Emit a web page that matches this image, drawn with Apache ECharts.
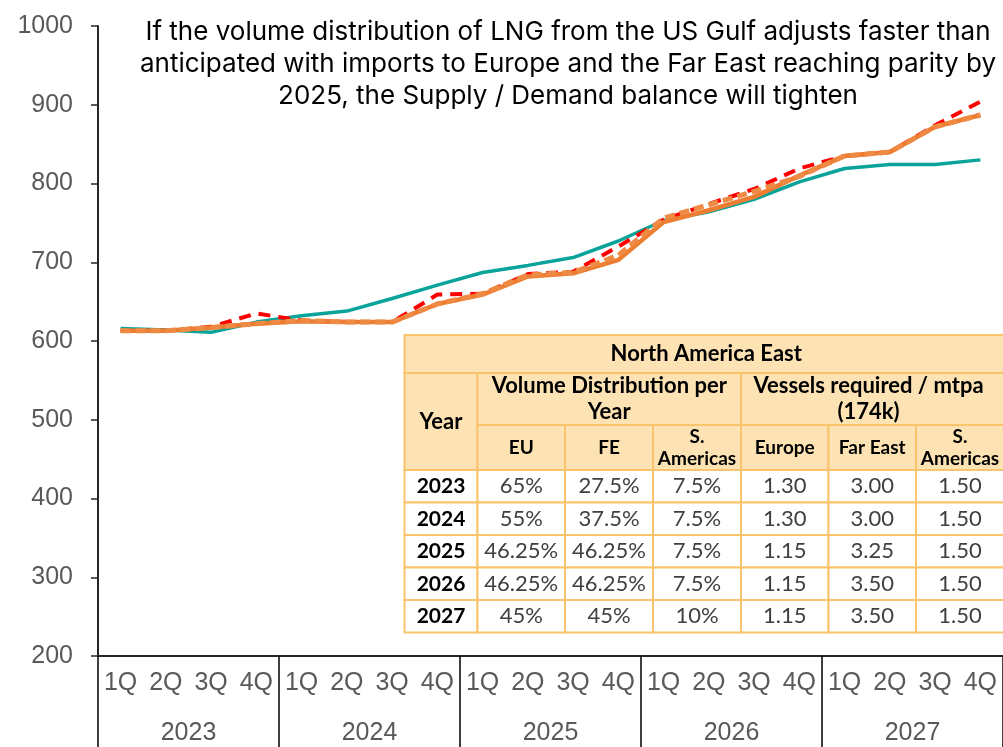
<!DOCTYPE html>
<html>
<head>
<meta charset="utf-8">
<script src="https://cdn.jsdelivr.net/npm/echarts@6/dist/echarts.min.js"></script>
<style>
  html, body { margin: 0; padding: 0; background: #fff; }
  #chart { width: 1003px; height: 747px; }
</style>
</head>
<body>
<div id="chart"></div>
<script>
// x axis: quarters inside years
const years = ['2023', '2024', '2025', '2026', '2027'];
const quarterLabels = ['1Q', '2Q', '3Q', '4Q'];

// lines
const tealLine = [616, 614, 611, 624, 632, 638, 654, 671, 687, 696, 706, 727, 753, 764, 780, 802, 819, 824, 824, 830];
const redDashed = [613, 613, 618, 635, 626, 624, 624, 659, 660, 685, 688, 720, 754, 774, 793, 819, 835, 840, 874, 904];
const orangeLine = [613, 613, 617, 622, 625, 624, 624, 647, 659, 682, 686, 703, 751, 766, 783, 810, 835, 840, 872, 887];
const orangeDashed = [613, 613, 617, 622, 626, 624, 624, 647, 660, 684, 687, 709, 756, 773, 790, 809, 835, 840, 872, 887];

// table: North America East
const tableYears = ['2023', '2024', '2025', '2026', '2027'];
const shareEU = ['65%', '55%', '46.25%', '46.25%', '45%'];
const shareFE = ['27.5%', '37.5%', '46.25%', '46.25%', '45%'];
const shareSAm = ['7.5%', '7.5%', '7.5%', '7.5%', '10%'];
const vesselsEurope = ['1.30', '1.30', '1.15', '1.15', '1.15'];
const vesselsFarEast = ['3.00', '3.00', '3.25', '3.50', '3.50'];
const vesselsSAm = ['1.50', '1.50', '1.50', '1.50', '1.50'];
const subHeaders = ['EU', 'FE', 'S.\nAmericas', 'Europe', 'Far East', 'S.\nAmericas'];

const quarterCats = [];
years.forEach(y => quarterLabels.forEach(q => quarterCats.push(y + ' ' + q)));

// table layout
const colX = [404.5, 477.5, 565, 653, 741, 828.5, 916, 1004];
const rowY = [335, 373, 425, 470, 502.5, 535, 567.5, 600, 632.5];
const headFill = '#FDE3B4';
const border = '#F9C46C';
const tableFont = 'Lato, "Open Sans", sans-serif';
const axisFont = '"Liberation Sans", Arial, sans-serif';

const graphics = [];
function cell(c0, c1, r0, r1, fill, text, opts) {
  const x0 = colX[c0], x1 = colX[c1], y0 = rowY[r0], y1 = rowY[r1];
  graphics.push({
    type: 'rect', z: 100,
    shape: { x: x0, y: y0, width: x1 - x0, height: y1 - y0 },
    style: { fill: fill, stroke: border, lineWidth: 2 }
  });
  if (text) {
    graphics.push({
      type: 'text', z: 101,
      x: (x0 + x1) / 2 + (opts.dx || 0), y: (y0 + y1) / 2 + (opts.dy || 0),
      style: {
        text: text, align: 'center', verticalAlign: 'middle',
        fontFamily: tableFont, fontSize: opts.size, fontWeight: opts.weight || 'normal',
        fill: opts.color || '#000', lineHeight: opts.lh || opts.size + 4
      }
    });
  }
}
cell(0, 7, 0, 1, headFill, 'North America East', { size: 22, weight: 'bold', dx: 2 });
cell(0, 1, 1, 3, headFill, 'Year', { size: 22, weight: 'bold' });
cell(1, 4, 1, 2, headFill, 'Volume Distribution per\nYear', { size: 22, weight: 'bold', lh: 26 });
cell(4, 7, 1, 2, headFill, 'Vessels required / mtpa\n(174k)', { size: 22, weight: 'bold', lh: 26, dx: -4 });
subHeaders.forEach((t, i) => {
  cell(i + 1, i + 2, 2, 3, headFill, t, { size: 19, weight: 'bold', lh: 22 });
});
const dataCols = [shareEU, shareFE, shareSAm, vesselsEurope, vesselsFarEast, vesselsSAm];
tableYears.forEach((yr, r) => {
  cell(0, 1, r + 3, r + 4, '#fff', yr, { size: 21, weight: 'bold' });
  dataCols.forEach((col, c) => {
    cell(c + 1, c + 2, r + 3, r + 4, '#fff', col[r], { size: 22, color: '#404040' });
  });
});

const chart = echarts.init(document.getElementById('chart'), null, { renderer: 'canvas' });
chart.setOption({
  animation: false,
  backgroundColor: '#fff',
  title: {
    text: 'If the volume distribution of LNG from the US Gulf adjusts faster than\nanticipated with imports to Europe and the Far East reaching parity by\n2025, the Supply / Demand balance will tighten',
    left: 563,
    top: 11,
    textAlign: 'center',
    textStyle: {
      fontFamily: 'Inter, Roboto, sans-serif',
      fontSize: 26,
      fontWeight: 'normal',
      color: '#000',
      lineHeight: 32
    }
  },
  grid: { left: 98, right: 0, top: 26, bottom: 91, containLabel: false, outerBoundsMode: 'none' },
  xAxis: [
    {
      type: 'category',
      data: quarterCats,
      position: 'bottom',
      axisLine: { show: true, lineStyle: { color: '#262626', width: 2 } },
      axisTick: { show: false },
      axisLabel: {
        interval: 0, margin: 15, fontSize: 25, color: '#595959', fontFamily: axisFont,
        formatter: v => v.split(' ')[1]
      }
    },
    {
      type: 'category',
      data: years,
      position: 'bottom',
      offset: 0,
      axisLine: { show: false },
      axisTick: { show: true, interval: 0, length: 91, lineStyle: { color: '#000', width: 1.5 } },
      axisLabel: { interval: 0, margin: 65, fontSize: 25, color: '#595959', fontFamily: axisFont },
      splitLine: { show: false }
    }
  ],
  yAxis: {
    type: 'value',
    min: 200, max: 1000, interval: 100,
    axisLine: { show: true, lineStyle: { color: '#262626', width: 2 } },
    axisTick: { show: true, length: 7, lineStyle: { color: '#262626', width: 1.5 } },
    axisLabel: {
      margin: 25, fontSize: 25, color: '#595959', fontFamily: axisFont,
      formatter: v => String(v)
    },
    splitLine: { show: false }
  },
  series: [
    {
      name: 'Teal', type: 'line', data: tealLine, symbol: 'none',
      lineStyle: { color: '#0AA39A', width: 3.5 }, z: 2
    },
    {
      name: 'Red dashed', type: 'line', data: redDashed, symbol: 'none',
      lineStyle: { color: '#FF0000', width: 4, type: [12, 8] }, z: 3
    },
    {
      name: 'Orange', type: 'line', data: orangeLine, symbol: 'none',
      lineStyle: { color: '#ED7D31', width: 4.5 }, z: 4
    },
    {
      name: 'Orange dashed', type: 'line', data: orangeDashed, symbol: 'none',
      lineStyle: { color: '#EF8A44', width: 5, type: [10, 5] }, z: 5
    }
  ],
  graphic: graphics
});
</script>
</body>
</html>
